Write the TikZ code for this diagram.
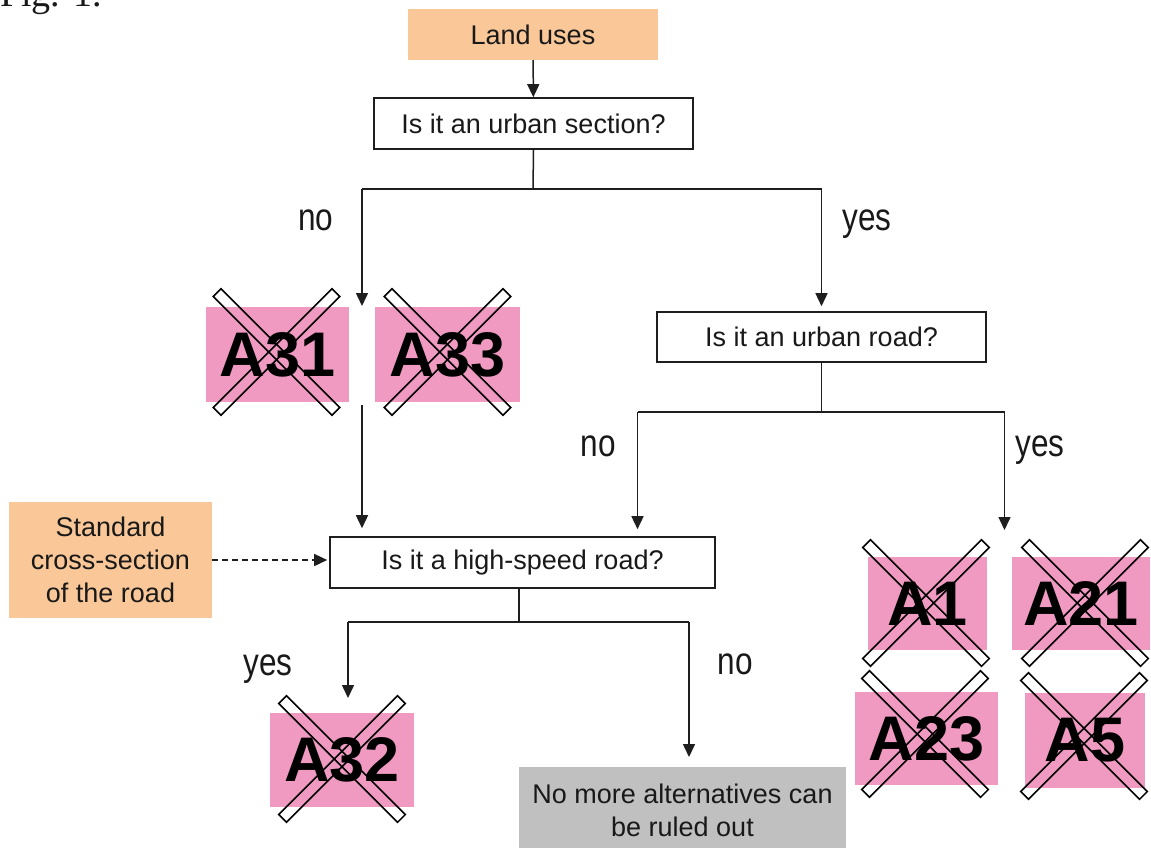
\documentclass[tikz,border=0pt]{standalone}
\usepackage{fontspec}
\setmainfont{Liberation Sans}
\newfontfamily\labelfamily[FakeStretch=0.82]{Liberation Sans}
\newfontfamily\figfamily{Liberation Serif}
\usetikzlibrary{arrows.meta}
\definecolor{orangebox}{RGB}{250,200,152}
\definecolor{pinkbox}{RGB}{240,154,194}
\definecolor{graybox}{RGB}{192,192,192}
\definecolor{linec}{RGB}{30,30,30}
\definecolor{textc}{RGB}{25,25,25}
\newcommand\myboxfont{\fontsize{27}{33}\selectfont}
\newcommand\mybigfont{\fontsize{63}{70}\selectfont\bfseries}
\newcommand\mylblfont{\labelfamily\fontsize{38.5}{40}\selectfont}
\newcommand\myfigfont{\figfamily\fontsize{38}{40}\selectfont}
\tikzset{
  qbox/.style={draw=linec, line width=1.6pt, fill=white, inner sep=0pt, font=\myboxfont, text=textc},
  obox/.style={fill=orangebox, inner sep=0pt, font=\myboxfont, text=textc, align=center},
  pbox/.style={fill=pinkbox, inner sep=0pt, font=\mybigfont, text=black},
  xbar/.style={draw=black, line width=1.5pt, minimum width=168pt, minimum height=11pt, inner sep=0pt},
  conn/.style={line width=1.5pt, draw=linec},
  arr/.style={conn, -{Triangle[width=12pt,length=13pt]}},
  lbl/.style={font=\mylblfont, text=textc, anchor=base, inner sep=0pt},
}
\begin{document}
\begin{tikzpicture}[x=1pt,y=-1pt]
\useasboundingbox (0,0) rectangle (1151,847);
\fill[white] (0,0) rectangle (1151,847);

\node[anchor=base west, inner sep=0pt, font=\myfigfont, text=textc] (fig) at (0,6) {Fig. 1.};

% boxes
\node[obox, minimum width=250pt, minimum height=51pt] (land) at (533,34.5) {Land uses};
\node[qbox, minimum width=319pt, minimum height=51pt] (urbsec) at (533.5,123.5) {Is it an urban section?};
\node[qbox, minimum width=329pt, minimum height=50pt] (urbroad) at (821.5,337) {Is it an urban road?};
\node[qbox, minimum width=385pt, minimum height=51pt] (hispeed) at (522.5,562.5) {Is it a high-speed road?};
\node[obox, minimum width=203pt, minimum height=116pt] (std) at (110.5,560) {Standard\\cross-section\\of the road};
\node[fill=graybox, minimum width=327pt, minimum height=100pt, inner sep=0pt, anchor=north] (gray) at (682.5,767) {};
\node[anchor=north, inner sep=0pt, font=\myboxfont, text=textc, align=center] (graytxt) at (682.5,783.5) {No more alternatives can\\be ruled out};

% alternatives
\node[pbox, minimum width=143pt, minimum height=95pt] (a31) at (277.5,354.5) {A31};
\node[pbox, minimum width=145pt, minimum height=95pt] (a33) at (447.5,354.5) {A33};
\node[pbox, minimum width=144pt, minimum height=94pt] (a32) at (342,760) {A32};
\node[pbox, minimum width=119pt, minimum height=93pt] (a1) at (927.5,603.5) {A1};
\node[pbox, minimum width=138pt, minimum height=93pt] (a21) at (1081,603.5) {A21};
\node[pbox, minimum width=143pt, minimum height=93pt] (a23) at (926.5,738.5) {A23};
\node[pbox, minimum width=120pt, minimum height=95pt] (a5) at (1085,740) {A5};

% crosses
\node[xbar, rotate=45] (x31a) at (276.5,352) {};
\node[xbar, rotate=-45] (x31b) at (276.5,352) {};
\node[xbar, rotate=45] (x33a) at (447.5,352) {};
\node[xbar, rotate=-45] (x33b) at (447.5,352) {};
\node[xbar, rotate=45] (x32a) at (342,759) {};
\node[xbar, rotate=-45] (x32b) at (342,759) {};
\node[xbar, rotate=45] (x1a) at (926,603) {};
\node[xbar, rotate=-45] (x1b) at (926,603) {};
\node[xbar, rotate=45] (x21a) at (1085,603) {};
\node[xbar, rotate=-45] (x21b) at (1085,603) {};
\node[xbar, rotate=45] (x23a) at (925,734) {};
\node[xbar, rotate=-45] (x23b) at (925,734) {};
\node[xbar, rotate=45] (x5a) at (1084,736) {};
\node[xbar, rotate=-45] (x5b) at (1084,736) {};

% connectors
\coordinate (j1) at (533,189);
\coordinate (j1l) at (362,189);
\coordinate (j1r) at (821.5,189);
\coordinate (t31) at (362,306);
\coordinate (s31) at (362,405);
\coordinate (j2) at (821.5,412);
\coordinate (j2l) at (637.5,412);
\coordinate (j2r) at (1004.5,412);
\coordinate (t1) at (1004.5,530);
\coordinate (j3) at (519,622);
\coordinate (j3l) at (348,622);
\coordinate (j3r) at (689,622);
\coordinate (t32) at (348,698);

\draw[arr] (land) -- (urbsec);
\draw[conn] (urbsec.south) -- (j1);
\draw[conn] (j1l) -- (j1r);
\draw[arr] (j1l) -- (t31);
\draw[arr, shorten >=5pt] (j1r) -- (urbroad.north);
\draw[arr, shorten >=8pt] (s31) -- (s31 |- hispeed.north);
\draw[conn] (urbroad.south) -- (j2);
\draw[conn] (j2l) -- (j2r);
\draw[arr, shorten >=7pt] (j2l) -- (j2l |- hispeed.north);
\draw[arr] (j2r) -- (t1);
\draw[arr, dash pattern=on 6pt off 4pt, shorten >=2pt] (std.east) -- (std.east -| hispeed.west);
\draw[conn] (hispeed.south -| j3) -- (j3);
\draw[conn] (j3l) -- (j3r);
\draw[arr] (j3l) -- (t32);
\draw[arr, shorten >=10pt] (j3r) -- (j3r |- gray.north);

% labels
\node[lbl] (lno1) at (316,230) {no};
\node[lbl] (lyes1) at (867,230) {yes};
\node[lbl] (lno2) at (598.5,456) {no};
\node[lbl] (lyes2) at (1040,456) {yes};
\node[lbl] (lyes3) at (268,675) {yes};
\node[lbl] (lno3) at (735,674) {no};
\end{tikzpicture}
\end{document}
